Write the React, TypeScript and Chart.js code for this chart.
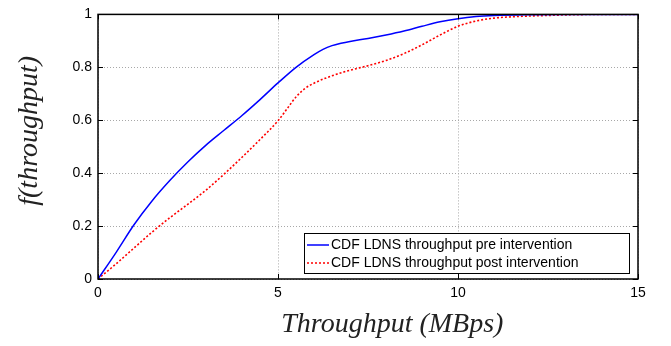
import React, { useEffect, useRef } from "react";
import { Chart, registerables } from "chart.js";

Chart.register(...registerables);

const xPre = [0, 0.5, 1, 1.5, 2, 2.5, 3, 3.5, 4, 4.5, 5, 5.5, 6, 6.25, 6.5, 6.75, 7, 7.5, 8, 8.5, 9, 9.5, 10, 10.5, 11, 12, 13, 15];
const yPre = [0, 0.1, 0.205, 0.295, 0.373, 0.443, 0.506, 0.562, 0.618, 0.678, 0.741, 0.8, 0.848, 0.868, 0.882, 0.891, 0.898, 0.909, 0.922, 0.937, 0.955, 0.972, 0.984, 0.992, 0.996, 0.999, 1, 1];
const xPost = [0, 0.5, 1, 1.5, 2, 2.5, 3, 3.5, 4, 4.5, 5, 5.25, 5.5, 5.75, 6, 6.5, 7, 7.5, 8, 8.5, 9, 9.5, 10, 10.5, 11, 11.5, 12, 12.5, 13, 14, 15];
const yPost = [0, 0.057, 0.117, 0.177, 0.232, 0.283, 0.336, 0.396, 0.46, 0.527, 0.598, 0.643, 0.688, 0.72, 0.74, 0.768, 0.789, 0.806, 0.826, 0.852, 0.885, 0.922, 0.955, 0.975, 0.986, 0.991, 0.994, 0.996, 0.998, 1, 1];
const xTicks = [0, 5, 10, 15];
const yTicks = [0, 0.2, 0.4, 0.6, 0.8, 1];
const seriesLabels = ["CDF LDNS throughput pre intervention", "CDF LDNS throughput post intervention"];
const xTitle = "Throughput (MBps)";
const yTitle = "f(throughput)";

const frameLegendPlugin = {
  id: "frameLegend",
  afterDraw(chart: any) {
    const { ctx, chartArea } = chart;
    const xs = chart.scales.x;
    const ys = chart.scales.y;
    const { left, right, top, bottom } = chartArea;
    ctx.save();
    ctx.strokeStyle = "#000";
    ctx.lineWidth = 1.5;
    ctx.setLineDash([]);
    ctx.strokeRect(left, top, right - left, bottom - top);
    ctx.lineWidth = 1;
    const tl = 5;
    xTicks.forEach((v) => {
      const px = Math.round(xs.getPixelForValue(v)) + 0.5;
      ctx.beginPath();
      ctx.moveTo(px, bottom);
      ctx.lineTo(px, bottom - tl);
      ctx.moveTo(px, top);
      ctx.lineTo(px, top + tl);
      ctx.stroke();
    });
    yTicks.forEach((v) => {
      const py = Math.round(ys.getPixelForValue(v)) + 0.5;
      ctx.beginPath();
      ctx.moveTo(left, py);
      ctx.lineTo(left + tl, py);
      ctx.moveTo(right, py);
      ctx.lineTo(right - tl, py);
      ctx.stroke();
    });
    // legend
    const bx = right - 334, by = bottom - 46, bw = 325, bh = 40;
    ctx.fillStyle = "#fff";
    ctx.fillRect(bx, by, bw, bh);
    ctx.strokeStyle = "#000";
    ctx.lineWidth = 1;
    ctx.strokeRect(bx + 0.5, by + 0.5, bw, bh);
    ctx.font = "14px 'Liberation Sans', Arial, sans-serif";
    ctx.textBaseline = "middle";
    ctx.textAlign = "left";
    ctx.fillStyle = "#000";
    chart.data.datasets.forEach((ds: any, i: number) => {
      const cy = by + 12 + i * 18;
      ctx.strokeStyle = ds.borderColor;
      ctx.lineWidth = 1.5;
      ctx.setLineDash(ds.borderDash || []);
      ctx.beginPath();
      ctx.moveTo(bx + 3, cy);
      ctx.lineTo(bx + 25, cy);
      ctx.stroke();
      ctx.setLineDash([]);
      ctx.fillText(ds.label, bx + 27, cy);
    });
    // axis titles
    ctx.fillStyle = "#222";
    ctx.font = "italic 28px 'Liberation Serif', 'Times New Roman', serif";
    ctx.textAlign = "center";
    ctx.textBaseline = "alphabetic";
    ctx.fillText(xTitle, left + (right - left) * 0.545, bottom + 53);
    ctx.translate(left - 60, top + (bottom - top) * 0.44);
    ctx.rotate(-Math.PI / 2);
    ctx.textBaseline = "middle";
    ctx.fillText(yTitle, 0, -8);
    ctx.restore();
  },
};

export default function App() {
  const ref = useRef<HTMLCanvasElement>(null);
  useEffect(() => {
    const chart = new Chart(ref.current!, {
      type: "line",
      data: {
        datasets: [
          {
            label: seriesLabels[0],
            data: xPre.map((x, i) => ({ x, y: yPre[i] })),
            borderColor: "#0000ff",
            borderWidth: 1.5,
            pointRadius: 0,
            cubicInterpolationMode: "monotone",
            fill: false,
          },
          {
            label: seriesLabels[1],
            data: xPost.map((x, i) => ({ x, y: yPost[i] })),
            borderColor: "#ff0000",
            borderWidth: 1.6,
            borderDash: [2, 2],
            pointRadius: 0,
            cubicInterpolationMode: "monotone",
            fill: false,
          },
        ],
      },
      options: {
        animation: false,
        responsive: false,
        maintainAspectRatio: false,
        layout: { padding: { left: 0, right: 33, top: 8, bottom: 0 } },
        plugins: { legend: { display: false }, tooltip: { enabled: false } },
        scales: {
          x: {
            type: "linear",
            min: 0,
            max: 15,
            afterBuildTicks: (s: any) => {
              s.ticks = xTicks.map((v) => ({ value: v }));
            },
            afterFit: (s: any) => {
              s.height = 67;
            },
            border: { display: false, dash: [1, 2] },
            grid: {
              color: "#a8a8a8",
              lineWidth: 1,
              tickLength: 0,
              drawTicks: false,
            },
            ticks: {
              color: "#000",
              padding: 6,
              maxRotation: 0,
              font: { family: "'Liberation Sans', Arial, sans-serif", size: 14 },
              callback: (v: any) => String(v),
            },
            title: { display: false },
          },
          y: {
            type: "linear",
            min: 0,
            max: 1,
            afterBuildTicks: (s: any) => {
              s.ticks = yTicks.map((v) => ({ value: v }));
            },
            afterFit: (s: any) => {
              s.width = 98;
            },
            border: { display: false, dash: [1, 2] },
            grid: {
              color: "#a8a8a8",
              lineWidth: 1,
              tickLength: 0,
              drawTicks: false,
            },
            ticks: {
              color: "#000",
              padding: 6,
              font: { family: "'Liberation Sans', Arial, sans-serif", size: 14 },
              callback: (v: any) => String(v),
            },
            title: { display: false },
          },
        },
      },
      plugins: [frameLegendPlugin],
    } as any);
    return () => chart.destroy();
  }, []);
  return (
    <div style={{ position: "fixed", left: 0, top: 0, width: 671, height: 346, background: "#fff" }}>
      <canvas ref={ref} width={671} height={346} style={{ width: 671, height: 346 }} />
    </div>
  );
}
